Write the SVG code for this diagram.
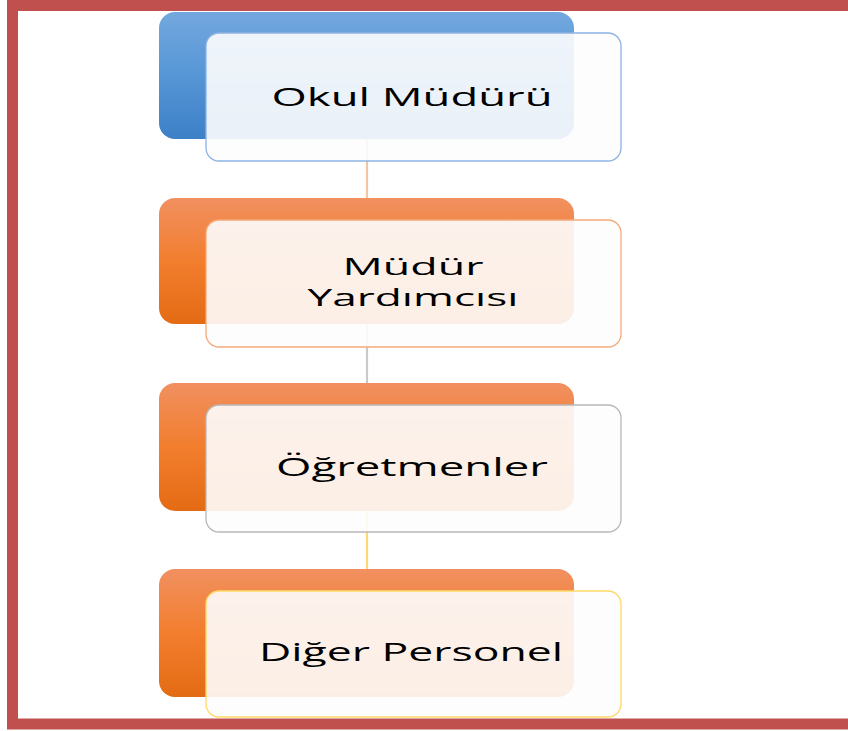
<svg xmlns="http://www.w3.org/2000/svg" width="848" height="731" viewBox="0 0 848 731">
<defs>
<linearGradient id="gBlue" x1="0" y1="0" x2="0" y2="1">
<stop offset="0" stop-color="#73A8DE"/><stop offset="0.5" stop-color="#5696D6"/><stop offset="1" stop-color="#3D80C6"/>
</linearGradient>
<linearGradient id="gOrange" x1="0" y1="0" x2="0" y2="1">
<stop offset="0" stop-color="#F19060"/><stop offset="0.5" stop-color="#F27E2E"/><stop offset="1" stop-color="#E46B14"/>
</linearGradient>
<style>
.front{fill:#FDFDFD;fill-opacity:0.9;stroke-width:1.3}
.lbl{font-family:"Open Sans","DejaVu Sans",sans-serif;font-size:25px;fill:#000;text-anchor:middle}
.lbl2{font-size:23px}
.conn{stroke-width:2.2;fill:none}
</style>
</defs>
<rect width="848" height="731" fill="#FFFFFF"/>
<rect x="12.5" y="5.5" width="842" height="718.5" fill="none" stroke="#C0504D" stroke-width="11"/>
<g id="connectors">
<line class="conn" x1="367" y1="139" x2="367" y2="198" stroke="#F7C4A0"/>
<line class="conn" x1="367" y1="324" x2="367" y2="383" stroke="#C9C9C9"/>
<line class="conn" x1="367" y1="511" x2="367" y2="569" stroke="#FFD870"/>
</g>
<g id="node1">
<rect x="159" y="12" width="415" height="127" rx="16" fill="url(#gBlue)"/>
<rect class="front" x="206" y="33" width="415" height="128" rx="13" stroke="#8DB3E2"/>
<text class="lbl" x="412" y="106" textLength="281" lengthAdjust="spacingAndGlyphs">Okul Müdürü</text>
</g>
<g id="node2">
<rect x="159" y="198" width="415" height="126" rx="16" fill="url(#gOrange)"/>
<rect class="front" x="206" y="220" width="415" height="127" rx="13" stroke="#F4A97A"/>
<text class="lbl lbl2" x="413" y="275" textLength="141" lengthAdjust="spacingAndGlyphs">Müdür</text>
<text class="lbl lbl2" x="413" y="306" textLength="211" lengthAdjust="spacingAndGlyphs">Yardımcısı</text>
</g>
<g id="node3">
<rect x="159" y="383" width="415" height="128" rx="16" fill="url(#gOrange)"/>
<rect class="front" x="206" y="405" width="415" height="127" rx="13" stroke="#B8B8B8"/>
<text class="lbl" x="412" y="476" textLength="272" lengthAdjust="spacingAndGlyphs">Öğretmenler</text>
</g>
<g id="node4">
<rect x="159" y="569" width="415" height="128" rx="16" fill="url(#gOrange)"/>
<rect class="front" x="206" y="591" width="415" height="126" rx="13" stroke="#FFD966"/>
<text class="lbl" x="411" y="661" textLength="304" lengthAdjust="spacingAndGlyphs">Diğer Personel</text>
</g>
</svg>
